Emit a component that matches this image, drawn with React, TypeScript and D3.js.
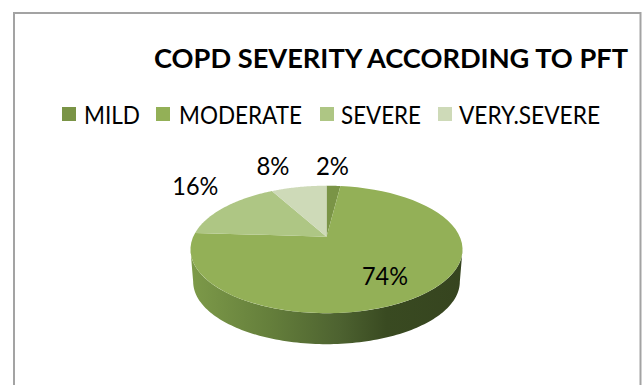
import React from "react";
import * as d3 from "d3";

// COPD severity shares (percent), clockwise from twelve o'clock
const categories = ["MILD", "MODERATE", "SEVERE", "VERY.SEVERE"];
const shares = [2, 74, 16, 8];
const sliceColors = ["#7a9446", "#93b057", "#aec684", "#cedab8"];
const titleText = "COPD SEVERITY ACCORDING TO PFT";

// Layout of the legend and of the percentage labels
const legendSwatchX = [62, 156, 320, 438];
const legendTextX = [84, 179, 341, 459];
const legendTextWidths = [56, 123, 80, 141];
const labelOffsets: [number, number][] = [[-1, -21], [-42, -17], [-29.5, -22], [-25.7, -22]];
const labelWidths = [33, 46, 46, 33];

const WIDTH = 643;
const HEIGHT = 385;
const FONT = "Lato, Carlito, sans-serif";

// Perspective disc: the apex sits above the centre of the visible ellipse
const APEX_X = 326.5;
const APEX_Y = 236.7;
const SCALE_X = 133.3;
const SCALE_Y = 61.2;
const TILT = 0.2;
const DEPTH = 32.5;
const BASE_SCALE = 0.98;

function project(theta: number, r = 1, scale = 1, drop = 0): [number, number] {
  const u = r * Math.sin(theta);
  const v = -r * Math.cos(theta);
  const w = 1 - TILT * v;
  return [APEX_X + (scale * SCALE_X * u) / w, APEX_Y + drop + (scale * SCALE_Y * v) / w];
}

const line = d3.line();

function slicePath(start: number, end: number): string {
  const pts: [number, number][] = [[APEX_X, APEX_Y]];
  d3.range(0, 61).forEach((i) => pts.push(project(start + ((end - start) * i) / 60)));
  return line(pts) + "Z";
}

function wallPath(): string {
  const from = Math.acos(-TILT);
  const to = 2 * Math.PI - from;
  const steps = d3.range(0, 121).map((i) => from + ((to - from) * i) / 120);
  const upper = steps.map((t) => project(t));
  const lower = steps.slice().reverse().map((t) => project(t, 1, BASE_SCALE, DEPTH));
  return line([...upper, ...lower]) + "Z";
}

export default function App() {
  const arcs = d3.pie<number>().sort(null)(shares);
  return (
    <svg
      width={WIDTH}
      height={HEIGHT}
      viewBox={`0 0 ${WIDTH} ${HEIGHT}`}
      style={{ position: "absolute", left: 0, top: 0, background: "#fff" }}
      fontFamily={FONT}
    >
      <defs>
        <linearGradient id="wall" gradientUnits="userSpaceOnUse" x1={190} x2={463} y1={0} y2={0}>
          <stop offset="0" stopColor="#7d9a49" />
          <stop offset="0.3" stopColor="#647e3b" />
          <stop offset="0.55" stopColor="#4d6230" />
          <stop offset="0.72" stopColor="#394a21" />
          <stop offset="1" stopColor="#36441f" />
        </linearGradient>
      </defs>

      <rect x={14} y={13} width={626.5} height={HEIGHT} fill="#fff" stroke="#a3a3a3" strokeWidth={2} />

      <text x={154} y={68} fontSize={27} fontWeight={700} fill="#000" textLength={474} lengthAdjust="spacingAndGlyphs">
        {titleText}
      </text>

      {categories.map((c, i) => (
        <g key={c}>
          <rect x={legendSwatchX[i]} y={107} width={14} height={14} fill={sliceColors[i]} />
          <text
            x={legendTextX[i]}
            y={123.5}
            fontSize={25}
            fill="#000"
            textLength={legendTextWidths[i]}
            lengthAdjust="spacingAndGlyphs"
          >
            {c}
          </text>
        </g>
      ))}

      <path d={wallPath()} fill="url(#wall)" />
      {arcs.map((a, i) => (
        <path key={categories[i]} d={slicePath(a.startAngle, a.endAngle)} fill={sliceColors[i]} />
      ))}

      {arcs.map((a, i) => {
        const [x, y] = project((a.startAngle + a.endAngle) / 2);
        return (
          <text
            key={categories[i]}
            x={x + labelOffsets[i][0]}
            y={y + labelOffsets[i][1]}
            fontSize={25}
            textAnchor="middle"
            dominantBaseline="central"
            fill="#000"
            textLength={labelWidths[i]}
            lengthAdjust="spacingAndGlyphs"
          >
            {`${shares[i]}%`}
          </text>
        );
      })}
    </svg>
  );
}
